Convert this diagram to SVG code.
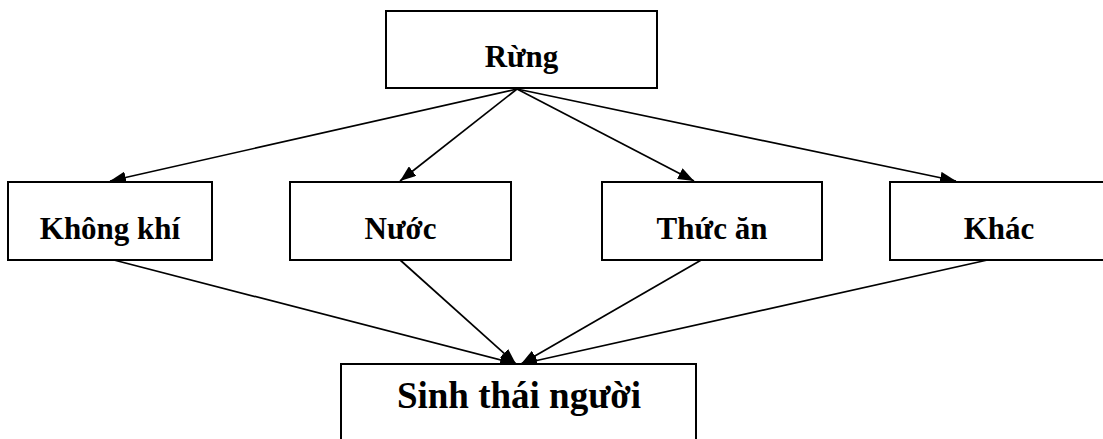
<svg xmlns="http://www.w3.org/2000/svg" width="1103" height="439" viewBox="0 0 1103 439">
  <style>
    .box { fill: #fff; stroke: #000; stroke-width: 2; }
    .lbl { font-family: "Liberation Serif", "Times New Roman", serif; font-weight: bold; font-size: 31px; fill: #000; text-anchor: middle; }
    .big { font-size: 37px; }
    .edge { fill: none; stroke: #000; stroke-width: 1.7; marker-end: url(#arrow); }
  </style>
  <defs>
    <marker id="arrow" markerUnits="userSpaceOnUse" markerWidth="17" markerHeight="12" refX="16" refY="6" orient="auto">
      <path d="M0,0 L16,6 L0,12 z" fill="#000"/>
    </marker>
  </defs>
  <rect width="1103" height="439" fill="#fff"/>

  <g id="connectors">
    <!-- from Rừng to each resource -->
    <line class="edge" x1="517" y1="89" x2="110" y2="181"/>
    <line class="edge" x1="517" y1="89" x2="400" y2="181"/>
    <line class="edge" x1="517" y1="89" x2="694" y2="181"/>
    <line class="edge" x1="517" y1="89" x2="956" y2="181"/>
    <!-- from each resource to Sinh thái người -->
    <line class="edge" x1="110" y1="259" x2="516" y2="364"/>
    <line class="edge" x1="399" y1="259" x2="516" y2="364"/>
    <line class="edge" x1="703" y1="259" x2="521" y2="364"/>
    <line class="edge" x1="992" y1="259" x2="521" y2="364"/>
  </g>

  <g id="rung">
    <rect class="box" x="386" y="11" width="271" height="77"/>
    <text class="lbl" x="521.5" y="67">Rừng</text>
  </g>
  <g id="khong-khi">
    <rect class="box" x="8" y="182" width="204" height="78"/>
    <text class="lbl" x="110" y="239">Không khí</text>
  </g>
  <g id="nuoc">
    <rect class="box" x="290" y="182" width="221" height="78"/>
    <text class="lbl" x="400.5" y="239">Nước</text>
  </g>
  <g id="thuc-an">
    <rect class="box" x="602" y="182" width="220" height="78"/>
    <text class="lbl" x="712" y="239">Thức ăn</text>
  </g>
  <g id="khac">
    <rect class="box" x="890" y="182" width="218" height="78"/>
    <text class="lbl" x="999" y="239">Khác</text>
  </g>
  <g id="sinh-thai-nguoi">
    <rect class="box" x="341" y="364" width="355" height="90"/>
    <text class="lbl big" x="519" y="408">Sinh thái người</text>
  </g>
</svg>
